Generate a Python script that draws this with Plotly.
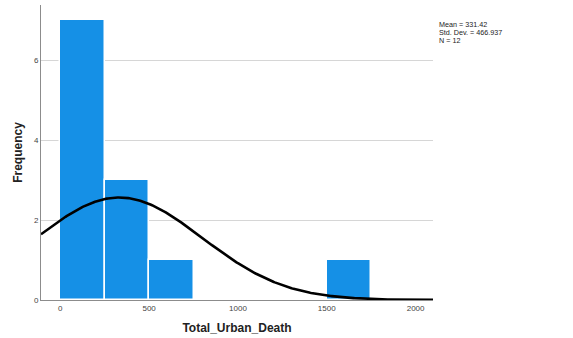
import numpy as np
import plotly.graph_objects as go

# Histogram bins of Total_Urban_Death (bin width 250) and their frequencies
bin_starts = [0, 250, 500, 1500]
bin_counts = [7, 3, 1, 1]
bin_width = 250

# Descriptive statistics shown beside the plot
mean_val = 331.42
std_val = 466.937
n_val = 12

x_ticks = [0, 500, 1000, 1500, 2000]
y_ticks = [0, 2, 4, 6]

x_range = [-108.5, 2098]
y_range = [0, 7.375]

centers = [s + bin_width / 2 for s in bin_starts]

# Normal curve scaled to histogram counts
xc = np.linspace(x_range[0], x_range[1], 400)
yc = n_val * bin_width / (std_val * np.sqrt(2 * np.pi)) * np.exp(-0.5 * ((xc - mean_val) / std_val) ** 2)

fig = go.Figure()
fig.add_trace(go.Bar(
    x=centers, y=bin_counts, width=[bin_width] * len(centers),
    marker=dict(color="#1590e6", line=dict(color="#ffffff", width=1.5)),
    hoverinfo="skip",
))
fig.add_trace(go.Scatter(
    x=xc, y=yc, mode="lines",
    line=dict(color="#000000", width=2.6),
    hoverinfo="skip",
))

font_family = "Liberation Sans, Arial, sans-serif"

stat_lines = [
    f"Mean = {mean_val:.2f}",
    f"Std. Dev. = {std_val:.3f}",
    f"N = {n_val}",
]
annotations = [
    dict(
        x=1.0, y=1.0, xref="paper", yref="paper",
        xshift=5, yshift=-14 - 8 * i, xanchor="left", yanchor="top", align="left",
        text=line, showarrow=False, borderpad=0,
        font=dict(size=7.2, color="#222222", family=font_family),
    )
    for i, line in enumerate(stat_lines)
]

fig.update_layout(
    width=573, height=338,
    margin=dict(l=41, r=140, t=5, b=38),
    plot_bgcolor="white", paper_bgcolor="white",
    showlegend=False,
    font=dict(family=font_family, color="#333333", size=8),
    bargap=0,
    xaxis=dict(
        range=x_range, tickvals=x_ticks, ticktext=[str(v) for v in x_ticks],
        showgrid=False, zeroline=False,
        showline=True, linecolor="#8c8c8c", linewidth=1,
        ticks="", tickfont=dict(size=8, color="#444444"),
        title=dict(text="<b>Total_Urban_Death</b>", font=dict(size=12, color="#222222"), standoff=12),
    ),
    yaxis=dict(
        range=y_range, tickvals=y_ticks, ticktext=[str(v) for v in y_ticks],
        showgrid=True, gridcolor="#d6d6d6", gridwidth=1, zeroline=False,
        showline=True, linecolor="#8c8c8c", linewidth=1,
        ticks="", tickfont=dict(size=8, color="#444444"),
        title=dict(text="<b>Frequency</b>", font=dict(size=12, color="#222222"), standoff=8),
    ),
    annotations=annotations,
)

fig.write_html("out.html")
